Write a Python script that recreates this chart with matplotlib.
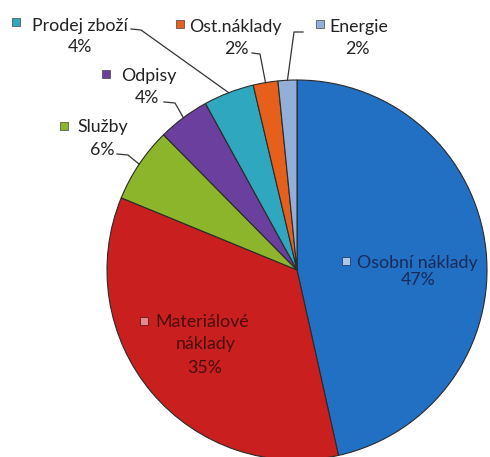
import numpy as np
import matplotlib.pyplot as plt

# data
kategorie = ['Osobní náklady', 'Materiálové náklady', 'Služby', 'Odpisy',
             'Prodej zboží', 'Ost.náklady', 'Energie']
podily = [46.5, 34.7, 6.4, 4.4, 4.3, 2.1, 1.6]
procenta = ['47%', '35%', '6%', '4%', '4%', '2%', '2%']
barvy = ['#2170c4', '#c9201f', '#8cb52b', '#6b3f9e', '#2fa7bf', '#e6601c', '#92afd9']

W, H = 490, 457
cx, cy, R = 297, 270, 190   # pie centre and radius in pixels


def px(x, y):
    # pixel position (from top left) -> data coords
    return ((x - cx) / R, (cy - y) / R)


plt.rcParams['font.family'] = ['Lato', 'DejaVu Sans']

fig = plt.figure(figsize=(W / 100, H / 100), dpi=100)
ax = fig.add_axes([0, 0, 1, 1])

wedges, _ = ax.pie(podily, colors=barvy, startangle=90, counterclock=False,
                   radius=1, wedgeprops=dict(edgecolor='#2a2a2a', linewidth=0.8))
ax.set_xlim(-cx / R, (W - cx) / R)
ax.set_ylim(-(H - cy) / R, cy / R)
ax.set_aspect('equal')
ax.axis('off')

fs = 12.8
tmava = '#222222'

# outside labels: marker, name (left, baseline), percent (centre, baseline),
# leader start and elbow
venku = {
    2: dict(m=(64, 126), n=(77, 132), p=(102, 155), s=(117, 154), e=(128, 155)),
    3: dict(m=(106, 74), n=(121, 81), p=(147, 103), s=(164, 102), e=(175, 103)),
    4: dict(m=(16, 22), n=(32, 31), p=(80, 52), s=(131, 29), e=(141, 30)),
    5: dict(m=(180, 24), n=(189, 32), p=(236, 54), s=(252, 53), e=(260, 54)),
    6: dict(m=(320, 24), n=(329, 32), p=(357, 54), s=(303, 32), e=(294, 32)),
}

for i, lay in venku.items():
    w = wedges[i]
    ang = np.deg2rad((w.theta1 + w.theta2) / 2)
    kraj = (np.cos(ang), np.sin(ang))
    ax.plot(*px(*lay['m']), marker='s', ms=5.5, color=barvy[i],
            mec='#444444', mew=0.5)
    ax.text(*px(*lay['n']), kategorie[i], ha='left', va='baseline',
            fontsize=fs, color=tmava)
    ax.text(*px(*lay['p']), procenta[i], ha='center', va='baseline',
            fontsize=fs, color=tmava)
    s = px(*lay['s'])
    e = px(*lay['e'])
    ax.plot([s[0], e[0], kraj[0]], [s[1], e[1], kraj[1]],
            color='#333333', lw=0.9)

# inside labels
modra_txt = '#1a2a58'
ax.plot(*px(346, 261), marker='s', ms=5.5, color='#a9c8ec', mec=modra_txt, mew=0.5)
ax.text(*px(357, 268), kategorie[0], ha='left', va='baseline',
        fontsize=fs, color=modra_txt)
ax.text(*px(418, 285), procenta[0], ha='center', va='baseline',
        fontsize=fs, color=modra_txt)

cervena_txt = '#4a0d0d'
slova = kategorie[1].split(' ')
ax.plot(*px(144, 321), marker='s', ms=5.5, color='#e58a8a', mec=cervena_txt, mew=0.5)
ax.text(*px(155, 327), slova[0], ha='left', va='baseline',
        fontsize=fs, color=cervena_txt)
ax.text(*px(206, 349), slova[1], ha='center', va='baseline',
        fontsize=fs, color=cervena_txt)
ax.text(*px(205, 373), procenta[1], ha='center', va='baseline',
        fontsize=fs, color=cervena_txt)

fig.savefig('out.png', dpi=100, facecolor='white')
